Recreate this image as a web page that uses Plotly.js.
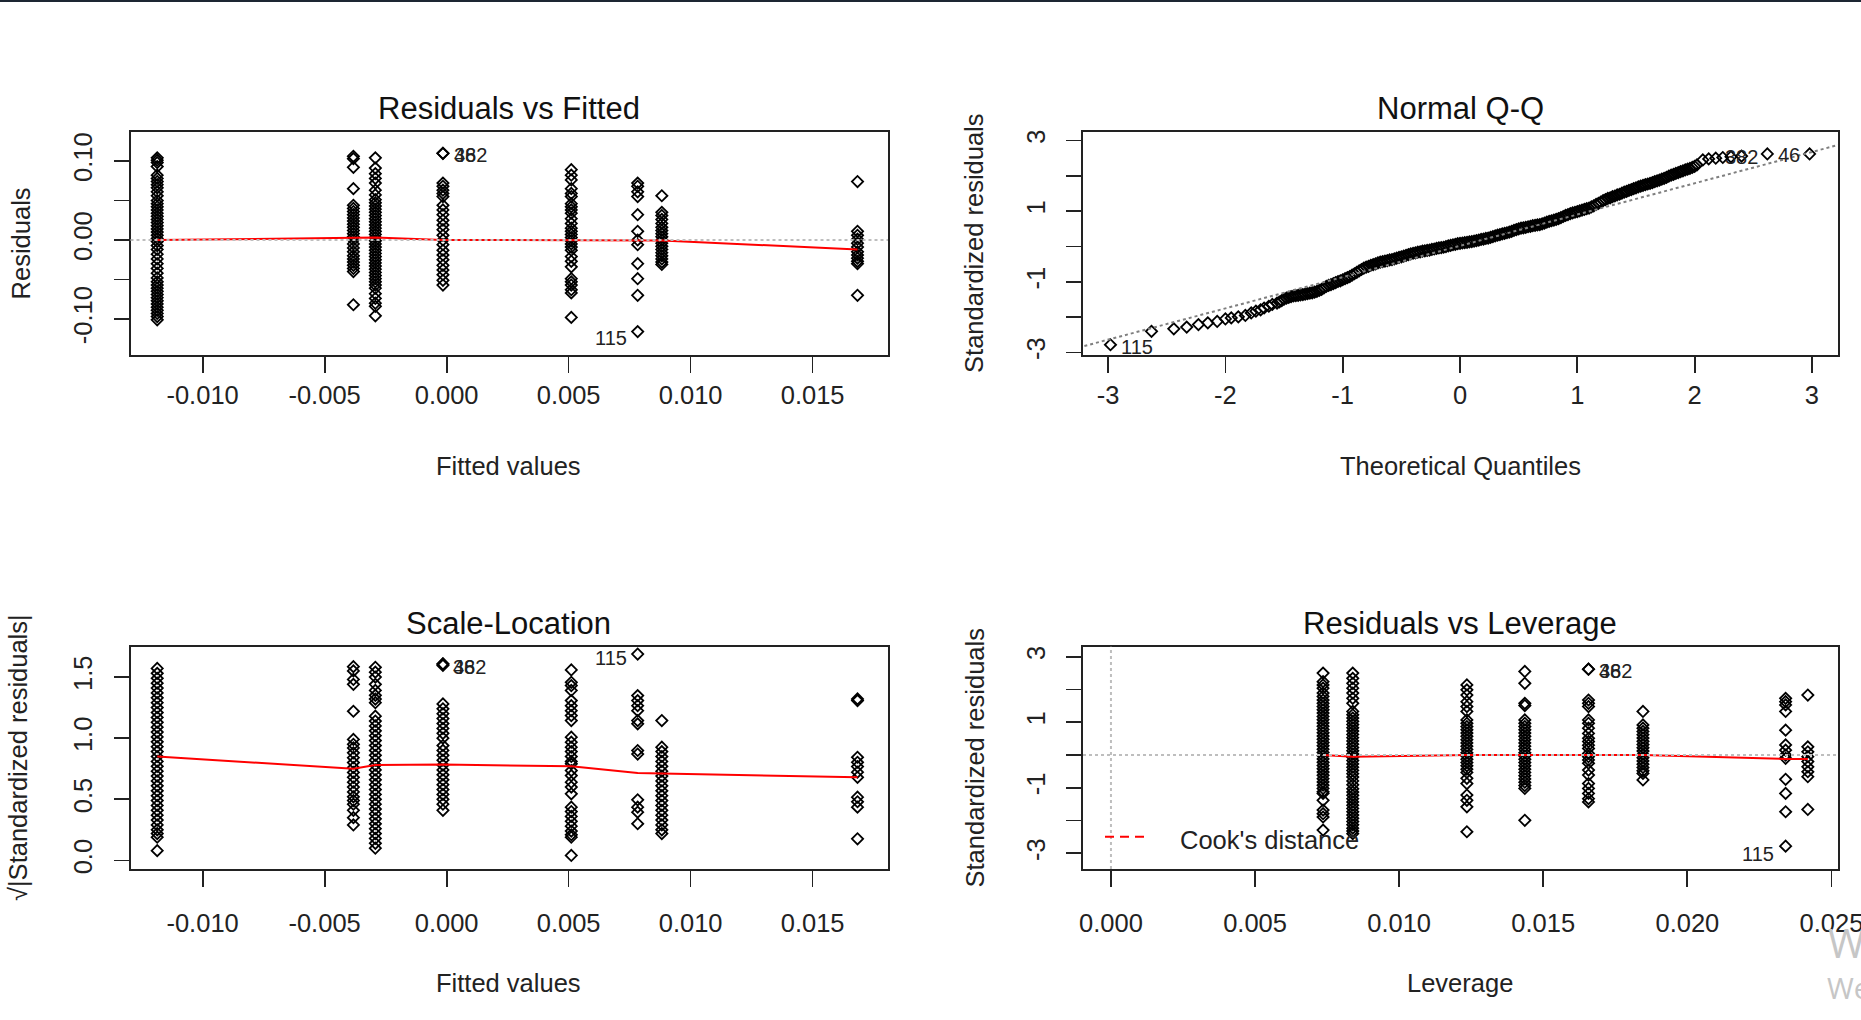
<!DOCTYPE html>
<html><head><meta charset="utf-8">
<script src="https://cdn.plot.ly/plotly-3.0.1.min.js"></script>
<style>html,body{margin:0;padding:0;background:#fff;overflow:hidden}#chart{width:1861px;height:1020px}</style>
</head><body><div id="chart"></div>
<script>
// ---------- DATA ----------
const fittedLevels   = [-0.01186, -0.00382, -0.00292, -0.00015, 0.00511, 0.00783, 0.00882, 0.01684];
const leverageLevels = [0.00736, 0.00839, 0.01235, 0.01436, 0.01657, 0.01846, 0.02341, 0.02418];

// Residuals vs Fitted: residuals per fitted level
const rvfCol1 = [0.104,0.101,0.098,0.093,0.082,0.078,0.074,0.070,0.066,0.061,0.056,0.050,0.046,0.042,0.038,0.034,0.030,0.026,0.022,0.018,0.014,0.010,0.006,0.002,-0.002,-0.007,-0.012,-0.018,-0.024,-0.030,-0.036,-0.042,-0.048,-0.053,-0.057,-0.061,-0.065,-0.069,-0.073,-0.077,-0.081,-0.085,-0.089,-0.093,-0.097,-0.101];
const rvfCol2 = [0.106,0.103,0.092,0.065,0.044,0.040,0.036,0.032,0.028,0.024,0.020,0.016,0.012,0.008,0.004,0.000,-0.005,-0.010,-0.015,-0.020,-0.024,-0.028,-0.032,-0.036,-0.040,-0.082];
const rvfCol3 = [0.104,0.091,0.084,0.078,0.072,0.063,0.057,0.051,0.047,0.043,0.039,0.035,0.031,0.027,0.023,0.019,0.015,0.011,0.007,0.003,-0.001,-0.005,-0.009,-0.013,-0.017,-0.021,-0.025,-0.029,-0.033,-0.037,-0.041,-0.045,-0.049,-0.053,-0.057,-0.061,-0.068,-0.074,-0.080,-0.084,-0.096];
const rvfCol4 = [0.1097,0.1097,0.072,0.068,0.063,0.059,0.055,0.044,0.038,0.032,0.025,0.019,0.013,0.006,0.000,-0.006,-0.013,-0.019,-0.025,-0.032,-0.038,-0.044,-0.051,-0.057];
const rvfCol5 = [0.089,0.082,0.076,0.065,0.059,0.055,0.046,0.042,0.038,0.034,0.027,0.021,0.015,0.011,0.007,0.003,-0.001,-0.005,-0.009,-0.013,-0.021,-0.027,-0.034,-0.049,-0.053,-0.057,-0.063,-0.067,-0.098];
const rvfCol6 = [0.072,0.068,0.061,0.055,0.032,0.011,0.000,-0.006,-0.030,-0.049,-0.070,-0.116];
const rvfCol7 = [0.056,0.035,0.031,0.026,0.021,0.016,0.012,0.008,0.004,0.000,-0.004,-0.008,-0.012,-0.016,-0.020,-0.024,-0.028,-0.031];
const rvfCol8 = [0.074,0.011,0.006,0.001,-0.004,-0.009,-0.015,-0.019,-0.023,-0.027,-0.030,-0.070];
const rvfSmooth = [0.000, 0.003, 0.003, 0.000, 0.000, 0.000, -0.0005, -0.012];

// Normal Q-Q (theoretical quantile, standardized residual)
const qqTheoretical = [
 -2.98,-2.63,-2.44,-2.33,-2.23,-2.15,-2.07,-2.00,-1.95,-1.89,-1.83,-1.78,-1.74,-1.70,-1.67,-1.63,-1.60,-1.56,
 -1.54,-1.52,-1.50,-1.48,-1.46,-1.44,-1.42,-1.40,-1.38,-1.36,
 -1.34,-1.32,-1.30,-1.28,-1.26,-1.24,-1.22,-1.20,-1.18,-1.16,
 -1.14,-1.12,-1.10,-1.08,-1.06,-1.04,-1.02,-1.00,-0.98,-0.96,
 -0.94,-0.92,-0.90,-0.88,-0.86,-0.84,-0.82,-0.80,-0.78,-0.76,
 -0.74,-0.72,-0.70,-0.68,-0.66,-0.64,-0.62,-0.60,-0.58,-0.56,
 -0.54,-0.52,-0.50,-0.48,-0.46,-0.44,-0.42,-0.40,-0.38,-0.36,
 -0.34,-0.32,-0.30,-0.28,-0.26,-0.24,-0.22,-0.20,-0.18,-0.16,
 -0.14,-0.12,-0.10,-0.08,-0.06,-0.04,-0.02,0.00,0.02,0.04,
 0.06,0.08,0.10,0.12,0.14,0.16,0.18,0.20,0.22,0.24,
 0.26,0.28,0.30,0.32,0.34,0.36,0.38,0.40,0.42,0.44,
 0.46,0.48,0.50,0.52,0.54,0.56,0.58,0.60,0.62,0.64,
 0.66,0.68,0.70,0.72,0.74,0.76,0.78,0.80,0.82,0.84,
 0.86,0.88,0.90,0.92,0.94,0.96,0.98,1.00,1.02,1.04,
 1.06,1.08,1.10,1.12,1.14,1.16,1.18,1.20,1.22,1.24,
 1.26,1.28,1.30,1.32,1.34,1.36,1.38,1.40,1.42,1.44,
 1.46,1.48,1.50,1.52,1.54,1.56,1.58,1.60,1.62,1.64,
 1.66,1.68,1.70,1.72,1.74,1.76,1.78,1.80,1.82,1.84,
 1.86,1.88,1.90,1.92,1.94,1.96,1.98,2.00,2.02,
 2.07,2.12,2.18,2.24,2.31,2.40,2.62,2.98];
const qqSample = [
 -2.78,-2.40,-2.33,-2.28,-2.21,-2.16,-2.12,-2.05,-2.02,-1.99,-1.95,-1.88,-1.83,-1.79,-1.74,-1.69,-1.64,-1.60,
 -1.57,-1.53,-1.49,-1.46,-1.44,-1.42,-1.40,-1.39,-1.38,-1.37,
 -1.36,-1.35,-1.33,-1.32,-1.31,-1.29,-1.27,-1.24,-1.21,-1.17,
 -1.13,-1.10,-1.08,-1.05,-1.02,-0.99,-0.97,-0.94,-0.91,-0.88,
 -0.85,-0.81,-0.77,-0.73,-0.69,-0.65,-0.61,-0.58,-0.56,-0.53,
 -0.51,-0.49,-0.46,-0.44,-0.43,-0.41,-0.40,-0.38,-0.37,-0.35,
 -0.33,-0.31,-0.29,-0.27,-0.25,-0.23,-0.21,-0.19,-0.18,-0.16,
 -0.15,-0.13,-0.12,-0.11,-0.10,-0.08,-0.07,-0.05,-0.04,-0.03,
 -0.02,0.00,0.02,0.03,0.05,0.06,0.08,0.09,0.10,0.11,
 0.12,0.13,0.14,0.15,0.17,0.18,0.20,0.21,0.23,0.24,
 0.26,0.28,0.30,0.32,0.34,0.36,0.37,0.39,0.41,0.43,
 0.46,0.48,0.50,0.52,0.53,0.54,0.56,0.57,0.59,0.60,
 0.61,0.62,0.64,0.66,0.69,0.71,0.73,0.75,0.77,0.79,
 0.82,0.85,0.88,0.90,0.93,0.95,0.97,0.99,1.01,1.03,
 1.05,1.07,1.09,1.12,1.15,1.19,1.22,1.26,1.30,1.33,
 1.36,1.38,1.41,1.43,1.46,1.48,1.51,1.54,1.56,1.59,
 1.61,1.64,1.66,1.69,1.71,1.73,1.75,1.77,1.79,1.81,
 1.84,1.86,1.88,1.91,1.93,1.96,1.99,2.02,2.04,2.07,
 2.09,2.12,2.14,2.17,2.19,2.21,2.24,2.27,2.31,
 2.45,2.48,2.50,2.52,2.54,2.56,2.62,2.62];
const qqLineX = [-3.4, 3.4];
const qqLineY = [-2.99, 3.03];

// Scale-Location: sqrt(|standardized residuals|) per fitted level
const slCol1 = [1.57,1.53,1.49,1.45,1.41,1.37,1.33,1.29,1.25,1.21,1.17,1.13,1.09,1.05,1.01,0.97,0.93,0.89,0.85,0.81,0.77,0.73,0.69,0.65,0.61,0.57,0.53,0.49,0.45,0.41,0.37,0.33,0.29,0.25,0.22,0.19,0.08];
const slCol2 = [1.585,1.55,1.48,1.44,1.22,0.99,0.95,0.92,0.88,0.84,0.80,0.76,0.72,0.68,0.64,0.60,0.56,0.52,0.49,0.46,0.41,0.35,0.29];
const slCol3 = [1.58,1.54,1.50,1.44,1.39,1.35,1.32,1.29,1.18,1.14,1.10,1.06,1.02,0.98,0.94,0.90,0.86,0.82,0.78,0.74,0.70,0.66,0.62,0.58,0.54,0.50,0.46,0.42,0.38,0.34,0.30,0.26,0.22,0.18,0.14,0.10];
const slCol4 = [1.607,1.607,1.595,1.28,1.24,1.20,1.16,1.12,1.08,1.04,1.00,0.94,0.90,0.86,0.82,0.78,0.74,0.70,0.66,0.62,0.58,0.54,0.50,0.46,0.41];
const slCol5 = [1.558,1.457,1.43,1.39,1.307,1.266,1.225,1.185,1.144,1.008,0.967,0.926,0.89,0.85,0.81,0.79,0.735,0.694,0.64,0.60,0.545,0.436,0.40,0.36,0.32,0.28,0.24,0.21,0.19,0.041];
const slCol6 = [1.688,1.348,1.307,1.266,1.225,1.144,1.117,0.899,0.87,0.496,0.436,0.395,0.30];
const slCol7 = [1.144,0.926,0.89,0.85,0.81,0.77,0.73,0.69,0.65,0.61,0.57,0.53,0.49,0.45,0.41,0.37,0.33,0.29,0.25,0.22];
const slCol8 = [1.321,1.307,0.844,0.803,0.768,0.722,0.68,0.517,0.48,0.436,0.177];
const slSmooth = [0.85, 0.75, 0.78, 0.785, 0.77, 0.715, 0.71, 0.68];

// Residuals vs Leverage: standardized residuals per leverage level
const rvlCol1 = [2.50,2.24,2.14,2.04,1.89,1.79,1.68,1.58,1.48,1.38,1.28,1.18,1.08,0.98,0.88,0.78,0.68,0.58,0.48,0.38,0.28,0.18,0.08,-0.02,-0.12,-0.22,-0.32,-0.42,-0.52,-0.62,-0.72,-0.82,-0.92,-1.02,-1.12,-1.17,-1.38,-1.68,-1.79,-1.89,-2.29];
const rvlCol2 = [2.50,2.34,2.19,2.04,1.89,1.73,1.58,1.33,1.23,1.13,1.03,0.93,0.83,0.73,0.63,0.53,0.43,0.33,0.23,0.13,0.03,-0.07,-0.17,-0.27,-0.37,-0.47,-0.57,-0.67,-0.79,-0.91,-1.03,-1.13,-1.23,-1.33,-1.43,-1.53,-1.63,-1.73,-1.83,-1.93,-2.03,-2.13,-2.23,-2.32,-2.40];
const rvlCol3 = [2.14,1.99,1.83,1.63,1.48,1.33,1.07,0.97,0.87,0.77,0.67,0.57,0.47,0.37,0.27,0.17,0.07,-0.03,-0.13,-0.23,-0.33,-0.43,-0.53,-0.71,-0.87,-1.22,-1.38,-1.58,-2.34];
const rvlCol4 = [2.55,2.19,1.58,1.51,1.07,0.97,0.87,0.77,0.67,0.57,0.47,0.37,0.27,0.17,0.07,-0.03,-0.13,-0.23,-0.33,-0.43,-0.53,-0.63,-0.73,-0.83,-0.93,-1.02,-1.99];
const rvlCol5 = [2.62,2.62,1.68,1.58,1.48,1.07,0.97,0.82,0.66,0.51,0.41,0.30,0.20,0.05,-0.05,-0.15,-0.25,-0.46,-0.61,-0.87,-1.02,-1.17,-1.33,-1.43];
const rvlCol6 = [1.33,0.92,0.82,0.72,0.62,0.52,0.42,0.32,0.22,0.12,0.02,-0.08,-0.18,-0.28,-0.38,-0.48,-0.56,-0.76];
const rvlCol7 = [1.73,1.63,1.53,1.33,0.76,0.31,0.15,0.00,-0.10,-0.74,-1.17,-1.73,-2.78];
const rvlCol8 = [1.83,0.25,0.10,-0.05,-0.20,-0.36,-0.51,-0.66,-1.66];
const rvlSmooth = [0.00, -0.05, 0.00, 0.00, 0.00, 0.00, -0.12, -0.12];

const fittedTickVals = [-0.010, -0.005, 0.000, 0.005, 0.010, 0.015];
const fittedTickText = ['-0.010', '-0.005', '0.000', '0.005', '0.010', '0.015'];
const residTickVals = [-0.10, -0.05, 0.00, 0.05, 0.10];
const residTickText = ['-0.10', '', '0.00', '', '0.10'];
const stdTickVals = [-3, -2, -1, 0, 1, 2, 3];
const stdTickText = ['-3', '', '-1', '', '1', '', '3'];
const qTickVals = [-3, -2, -1, 0, 1, 2, 3];
const qTickText = ['-3', '-2', '-1', '0', '1', '2', '3'];
const slTickVals = [0.0, 0.5, 1.0, 1.5];
const slTickText = ['0.0', '0.5', '1.0', '1.5'];
const levTickVals = [0.000, 0.005, 0.010, 0.015, 0.020, 0.025];
const levTickText = ['0.000', '0.005', '0.010', '0.015', '0.020', '0.025'];

// ---------- LAYOUT HELPERS ----------
const W = 1861, H = 1020;
const FONT = 'Liberation Sans, Arial, Helvetica, sans-serif';
const px = v => v / W;
const py = v => 1 - v / H;

const rvfCols = [rvfCol1, rvfCol2, rvfCol3, rvfCol4, rvfCol5, rvfCol6, rvfCol7, rvfCol8];
const slCols  = [slCol1, slCol2, slCol3, slCol4, slCol5, slCol6, slCol7, slCol8];
const rvlCols = [rvlCol1, rvlCol2, rvlCol3, rvlCol4, rvlCol5, rvlCol6, rvlCol7, rvlCol8];

const markerStyle = {symbol: 'diamond-open', size: 8.6, color: '#000', line: {width: 1.8, color: '#000'}};

function columnTrace(levels, cols, xa, ya) {
  const x = [], y = [];
  cols.forEach((c, i) => c.forEach(v => { x.push(levels[i]); y.push(v); }));
  return {type: 'scatter', mode: 'markers', x, y, xaxis: xa, yaxis: ya, marker: markerStyle, hoverinfo: 'skip', cliponaxis: false};
}
function smoothTrace(levels, vals, xa, ya) {
  return {type: 'scatter', mode: 'lines', x: levels, y: vals, xaxis: xa, yaxis: ya, line: {color: '#ff0000', width: 2}, hoverinfo: 'skip'};
}

const traces = [
  columnTrace(fittedLevels, rvfCols, 'x', 'y'),
  smoothTrace(fittedLevels, rvfSmooth, 'x', 'y'),
  {type: 'scatter', mode: 'markers', x: qqTheoretical, y: qqSample, xaxis: 'x2', yaxis: 'y2', marker: markerStyle, hoverinfo: 'skip', cliponaxis: false},
  {type: 'scatter', mode: 'lines', x: qqLineX, y: qqLineY, xaxis: 'x2', yaxis: 'y2', line: {color: '#7f7f7f', width: 2, dash: 'dot'}, hoverinfo: 'skip'},
  columnTrace(fittedLevels, slCols, 'x3', 'y3'),
  smoothTrace(fittedLevels, slSmooth, 'x3', 'y3'),
  columnTrace(leverageLevels, rvlCols, 'x4', 'y4'),
  smoothTrace(leverageLevels, rvlSmooth, 'x4', 'y4')
];

const leftDom = [px(130.5), px(888)];
const rightDom = [px(1083), px(1837.5)];
const topDom = [py(355), py(131.7)];
const botDom = [py(869), py(646.7)];

function xAxis(domain, range, tv, tt, anchor, standoff) {
  return {domain, range, anchor, tickmode: 'array', tickvals: tv, ticktext: tt,
    ticks: 'outside', ticklen: 16, tickwidth: 1.8, tickcolor: '#222',
    showline: true, mirror: true, linecolor: '#222', linewidth: 2,
    showgrid: false, zeroline: false, fixedrange: true, ticklabeloverflow: 'allow',
    tickfont: {size: 25.5, color: '#222', family: FONT}, ticklabelstandoff: standoff};
}
function yAxis(domain, range, tv, tt, anchor) {
  return {domain, range, anchor, tickmode: 'array', tickvals: tv, ticktext: tt,
    ticks: 'outside', ticklen: 15, tickwidth: 1.8, tickcolor: '#222', tickangle: -90,
    showline: true, mirror: true, linecolor: '#222', linewidth: 2,
    showgrid: false, zeroline: false, fixedrange: true, ticklabeloverflow: 'allow',
    tickfont: {size: 25.5, color: '#222', family: FONT}, ticklabelstandoff: 11};
}

function titleAnn(text, x, y) {
  return {xref: 'paper', yref: 'paper', x: px(x), y: py(y), text, showarrow: false,
    xanchor: 'center', yanchor: 'middle', font: {size: 31, color: '#111', family: FONT}};
}
function axisAnn(text, x, y, rot) {
  return {xref: 'paper', yref: 'paper', x: px(x), y: py(y), text, showarrow: false, textangle: rot || 0,
    xanchor: 'center', yanchor: 'middle', font: {size: 25.5, color: '#222', family: FONT}};
}
function idAnn(text, xa, ya, x, y, side, yshift) {
  return {xref: xa, yref: ya, x, y, text, showarrow: false,
    xanchor: side > 0 ? 'left' : 'right', yanchor: 'middle', xshift: side * 9, yshift: yshift,
    font: {size: 20, color: '#222', family: FONT}};
}

const nQ = qqTheoretical.length;
const annotations = [
  titleAnn('Residuals vs Fitted', 509, 108.5),
  titleAnn('Normal Q-Q', 1460, 108.5),
  titleAnn('Scale-Location', 509, 623),
  titleAnn('Residuals vs Leverage', 1460, 623),
  axisAnn('Fitted values', 509, 466.5),
  axisAnn('Theoretical Quantiles', 1460, 466.5),
  axisAnn('Fitted values', 509, 983),
  axisAnn('Leverage', 1460, 983),
  axisAnn('Residuals', 21, 243.4, -90),
  axisAnn('Standardized residuals', 974.5, 243.4, -90),
  axisAnn('\u221A|Standardized residuals|', 18, 758, -90),
  axisAnn('Standardized residuals', 974.5, 758, -90),
  // id labels
  idAnn('382', 'x', 'y', fittedLevels[3], rvfCol4[0], 1, -2),
  idAnn('46', 'x', 'y', fittedLevels[3], rvfCol4[1], 1, -2),
  idAnn('115', 'x', 'y', fittedLevels[5], rvfCol6[11], -1, -6),
  idAnn('115', 'x2', 'y2', qqTheoretical[0], qqSample[0], 1, -2.5),
  idAnn('382', 'x2', 'y2', qqTheoretical[nQ - 2], qqSample[nQ - 2], -0.85, -3),
  idAnn('46', 'x2', 'y2', qqTheoretical[nQ - 1], qqSample[nQ - 1], -0.8, -1),
  idAnn('382', 'x3', 'y3', fittedLevels[3], slCol4[0], 0.95, -3),
  idAnn('46', 'x3', 'y3', fittedLevels[3], slCol4[1], 0.95, -3),
  idAnn('115', 'x3', 'y3', fittedLevels[5], slCol6[0], -1, -4),
  idAnn('382', 'x4', 'y4', leverageLevels[4], rvlCol5[0], 0.93, -1.5),
  idAnn('46', 'x4', 'y4', leverageLevels[4], rvlCol5[1], 0.93, -1.5),
  idAnn('115', 'x4', 'y4', leverageLevels[6], rvlCol7[12], -1.05, -8),
  // legend text
  {xref: 'paper', yref: 'paper', x: px(1178), y: py(840), text: "Cook's distance", showarrow: false,
    xanchor: 'left', yanchor: 'middle', font: {size: 25.5, color: '#222', family: FONT}},
  // watermark fragments
  {xref: 'paper', yref: 'paper', x: px(1826), y: py(942), text: 'W', showarrow: false,
    xanchor: 'left', yanchor: 'middle', font: {size: 40, color: '#c6c6c6', family: 'Open Sans, sans-serif'}},
  {xref: 'paper', yref: 'paper', x: px(1825), y: py(987), text: 'We', showarrow: false,
    xanchor: 'left', yanchor: 'middle', font: {size: 29, color: '#c6c6c6', family: 'Open Sans, sans-serif'}}
];

const grayDot = {color: '#bebebe', width: 2, dash: 'dot'};
const shapes = [
  {type: 'line', xref: 'x domain', yref: 'y', x0: 0, x1: 1, y0: 0, y1: 0, line: grayDot, layer: 'above'},
  {type: 'line', xref: 'x4 domain', yref: 'y4', x0: 0, x1: 1, y0: 0, y1: 0, line: grayDot, layer: 'above'},
  {type: 'line', xref: 'x4', yref: 'y4 domain', x0: 0, x1: 0, y0: 0, y1: 1, line: grayDot, layer: 'above'},
  {type: 'line', xref: 'paper', yref: 'paper', x0: px(1105), x1: px(1150), y0: py(836.7), y1: py(836.7),
    line: {color: '#ff0000', width: 2, dash: '9px,6px'}},
  {type: 'rect', xref: 'paper', yref: 'paper', x0: 0, x1: 1, y0: py(2), y1: 1, line: {width: 0}, fillcolor: '#1d2633'}
];

const layout = {
  width: W, height: H, margin: {l: 0, r: 0, t: 0, b: 0, pad: 0},
  paper_bgcolor: '#fff', plot_bgcolor: '#fff', showlegend: false,
  font: {family: FONT, color: '#222'},
  xaxis:  xAxis(leftDom,  [-0.012955, 0.01809], fittedTickVals, fittedTickText, 'y', 10.8),
  yaxis:  yAxis(topDom,   [-0.1456, 0.1371], residTickVals, residTickText, 'x'),
  xaxis2: xAxis(rightDom, [-3.214, 3.218], qTickVals, qTickText, 'y2', 10.8),
  yaxis2: yAxis(topDom,   [-3.07, 3.25], stdTickVals, stdTickText, 'x2'),
  xaxis3: xAxis(leftDom,  [-0.012955, 0.01809], fittedTickVals, fittedTickText, 'y3', 14),
  yaxis3: yAxis(botDom,   [-0.070, 1.748], slTickVals, slTickText, 'x3'),
  xaxis4: xAxis(rightDom, [-0.00097, 0.02521], levTickVals, levTickText, 'y4', 14),
  yaxis4: yAxis(botDom,   [-3.477, 3.306], stdTickVals, stdTickText, 'x4'),
  annotations, shapes
};

Plotly.newPlot('chart', traces, layout, {staticPlot: true, displayModeBar: false});
</script></body></html>
